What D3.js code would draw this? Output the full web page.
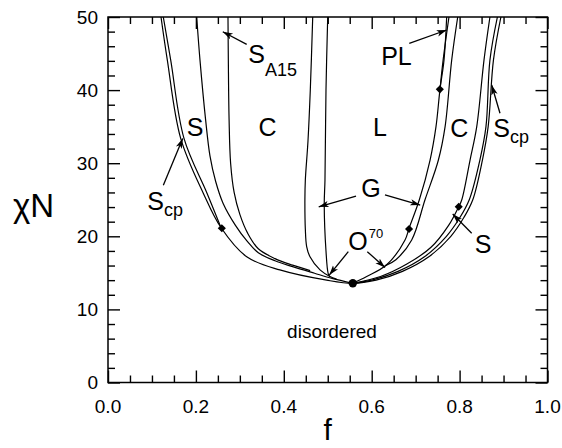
<!DOCTYPE html>
<html>
<head>
<meta charset="utf-8">
<script src="https://cdn.jsdelivr.net/npm/d3@7/dist/d3.min.js"></script>
<style>
  body { margin: 0; background: #fff; }
  text { font-family: "Liberation Sans", Arial, sans-serif; fill: #000; }
</style>
</head>
<body>
<script>
// phase boundaries, each point is [f, chiN]
const disorderBoundary = [[0.1206,50],[0.135,44.1],[0.1654,33.4],[0.2168,25.9],[0.257,21.2],[0.3156,17.2],[0.391,15.4],[0.4976,14.0],[0.557,13.57],[0.61,14.0],[0.67,15.2],[0.73,17.2],[0.78,20],[0.81,22.6],[0.83,25],[0.8518,30.4],[0.865,35],[0.877,44.1],[0.894,50]];
const scpSLeft = [[0.1258,50],[0.1427,44.1],[0.1729,33.4],[0.2253,25.9],[0.257,21.2]];
const sA15Left = [[0.2018,50],[0.2093,44.1],[0.222,36],[0.232,31],[0.245,27.5],[0.262,24.5],[0.29,21.5],[0.3156,19.4],[0.342,17.75],[0.38,16.65],[0.42,15.85],[0.47,14.95],[0.51,14.25],[0.557,13.57]];
const a15CLeft = [[0.273,50],[0.2738,44.1],[0.2755,36],[0.279,30],[0.287,26],[0.300,23],[0.318,20.4],[0.342,18.3],[0.38,16.95],[0.42,16.05],[0.46,15.3]];
const cGLeft = [[0.4658,50],[0.4603,40],[0.455,33],[0.449,27.7],[0.448,25],[0.449,21],[0.452,18.6],[0.4596,17.2],[0.4824,15.4],[0.505,14.5],[0.52,14.15]];
const gLLeft = [[0.4999,50],[0.496,40],[0.4937,27.7],[0.492,24.3],[0.496,18],[0.501,14.9],[0.505,14.45]];
const lGRight = [[0.7706,50],[0.7645,44.1],[0.7554,40.1],[0.7463,35],[0.7327,30.4],[0.7084,25],[0.685,21.1],[0.6758,19.5],[0.634,16.1],[0.5886,14.5],[0.557,13.57]];
const plRight = [[0.7554,40.1],[0.7625,44.1],[0.7758,50]];
const gCRight = [[0.7957,50],[0.782,44.1],[0.767,35],[0.7516,30.4],[0.7213,25],[0.691,19.5],[0.655,16.8],[0.630,15.95]];
const cSRight = [[0.869,50],[0.8555,44.1],[0.839,35],[0.8237,30.4],[0.805,25],[0.798,24.05],[0.775,21.5],[0.735,18.5],[0.68,16.2],[0.62,14.5],[0.557,13.57]];
const sScpRight = [[0.886,50],[0.869,44.1],[0.86,35],[0.846,30.4],[0.822,25],[0.80,22.5],[0.77,20],[0.72,17.2],[0.66,15.2],[0.60,14.0],[0.557,13.57]];

// special points
const triplePoints = [[0.259,21.1],[0.685,21.0],[0.755,40.1],[0.798,24.05]];
const criticalPoint = [0.557,13.57];

// axis ticks
const fMajor = [0, 0.2, 0.4, 0.6, 0.8, 1.0];
const fMinor = [0.05,0.1,0.15,0.25,0.3,0.35,0.45,0.5,0.55,0.65,0.7,0.75,0.85,0.9,0.95];
const nMajor = [0, 10, 20, 30, 40, 50];
const nMinor = [2,4,6,8,12,14,16,18,22,24,26,28,32,34,36,38,42,44,46,48];

// phase labels [text, sub, sup, f, chiN, anchor]
const phaseLabels = [
  ["S", "", "", 0.198, 33.72, "middle"],
  ["C", "", "", 0.363, 33.72, "middle"],
  ["L", "", "", 0.619, 33.72, "middle"],
  ["C", "", "", 0.799, 33.63, "middle"],
  ["S", "cp", "", 0.8767, 33.63, "start"],
  ["S", "A15", "", 0.3192, 43.7, "start"],
  ["PL", "", "", 0.6564, 43.43, "middle"],
  ["G", "", "", 0.5984, 25.42, "middle"],
  ["O", "", "70", 0.5468, 18.13, "start"],
  ["S", "cp", "", 0.0894, 23.6, "start"],
  ["S", "", "", 0.8532, 17.67, "middle"]
];

// arrows [fromF, fromN, toF, toN]
const arrows = [
  [0.3156,46.26,0.2611,47.98],
  [0.6855,46.40,0.7706,48.22],
  [0.5643,25.51,0.4794,24.04],
  [0.6302,25.65,0.7104,24.28],
  [0.5468,17.9,0.5034,14.70],
  [0.5900,17.9,0.6303,15.73],
  [0.1259,27.00,0.1700,33.39],
  [0.8919,36.83,0.8730,40.70],
  [0.8275,20.41,0.7843,23.05]
];

// dimensions and margins
const margin = {top: 17, right: 14.5, bottom: 65.5, left: 108};
const width = 562 - margin.left - margin.right,
      height = 448 - margin.top - margin.bottom;

const x = d3.scaleLinear().domain([0, 1]).range([0, width]);
const y = d3.scaleLinear().domain([0, 50]).range([height, 0]);

const root = d3.select("body").append("svg")
  .attr("width", 562)
  .attr("height", 448);

const defs = root.append("defs");
defs.append("clipPath").attr("id", "plotclip")
  .append("rect").attr("width", width).attr("height", height);
defs.append("marker")
  .attr("id", "head")
  .attr("markerUnits", "userSpaceOnUse")
  .attr("viewBox", "0 -5 10 10")
  .attr("refX", 10).attr("refY", 0)
  .attr("markerWidth", 10).attr("markerHeight", 10)
  .attr("orient", "auto")
  .append("path")
  .attr("d", "M0,-3.2L10,0L0,3.2L2.5,0Z")
  .attr("fill", "#000");

const svg = root.append("g")
  .attr("transform", `translate(${margin.left},${margin.top})`);

// ticks, all pointing inward
function ticks(axis, vals, size) {
  return axis.tickValues(vals).tickSize(size).tickFormat("");
}
const tickLayer = svg.append("g").attr("class", "ticks");
tickLayer.append("g").attr("transform", `translate(0,${height})`).call(ticks(d3.axisBottom(x), fMinor, -7));
tickLayer.append("g").attr("transform", `translate(0,${height})`).call(ticks(d3.axisBottom(x), fMajor, -12));
tickLayer.append("g").call(ticks(d3.axisTop(x), fMinor, -7));
tickLayer.append("g").call(ticks(d3.axisTop(x), fMajor, -12));
tickLayer.append("g").call(ticks(d3.axisLeft(y), nMinor, -7));
tickLayer.append("g").call(ticks(d3.axisLeft(y), nMajor, -12));
tickLayer.append("g").attr("transform", `translate(${width},0)`).call(ticks(d3.axisRight(y), nMinor, -7));
tickLayer.append("g").attr("transform", `translate(${width},0)`).call(ticks(d3.axisRight(y), nMajor, -12));
tickLayer.selectAll(".domain").remove();
tickLayer.selectAll(".tick line").attr("stroke", "#000").attr("stroke-width", 1.4);

// tick labels
svg.selectAll(".xlab").data(fMajor).enter().append("text")
  .attr("x", d => x(d)).attr("y", height + 30.5)
  .attr("text-anchor", "middle").style("font-size", "19px")
  .text(d => d3.format(".1f")(d));
svg.selectAll(".ylab").data(nMajor).enter().append("text")
  .attr("x", -10).attr("y", d => y(d) + 6.8)
  .attr("text-anchor", "end").style("font-size", "19px")
  .text(d => d);

// frame
svg.append("rect")
  .attr("width", width).attr("height", height)
  .attr("fill", "none").attr("stroke", "#000").attr("stroke-width", 1.5);

// boundaries
const line = d3.line()
  .x(d => x(d[0])).y(d => y(d[1]))
  .curve(d3.curveCatmullRom.alpha(0.5));
const curves = [disorderBoundary, scpSLeft, sA15Left, a15CLeft, cGLeft, gLLeft,
                lGRight, plRight, gCRight, cSRight, sScpRight];
svg.append("g").attr("clip-path", "url(#plotclip)")
  .selectAll("path").data(curves).enter().append("path")
  .attr("d", line)
  .attr("fill", "none").attr("stroke", "#000").attr("stroke-width", 1.2);

// triple points and critical point
svg.selectAll(".tp").data(triplePoints).enter().append("path")
  .attr("transform", d => `translate(${x(d[0])},${y(d[1])})`)
  .attr("d", d3.symbol(d3.symbolDiamond2, 42));
svg.append("circle")
  .attr("cx", x(criticalPoint[0])).attr("cy", y(criticalPoint[1]))
  .attr("r", 4.2);

// arrows
svg.selectAll(".arrow").data(arrows).enter().append("line")
  .attr("x1", d => x(d[0])).attr("y1", d => y(d[1]))
  .attr("x2", d => x(d[2])).attr("y2", d => y(d[3]))
  .attr("stroke", "#000").attr("stroke-width", 1.3)
  .attr("marker-end", "url(#head)");

// phase labels
const lab = svg.selectAll(".phase").data(phaseLabels).enter().append("text")
  .attr("x", d => x(d[3])).attr("y", d => y(d[4]))
  .attr("text-anchor", d => d[5])
  .style("font-size", "25px");
lab.append("tspan").text(d => d[0]);
lab.filter(d => d[1]).append("tspan")
  .attr("dy", d => d[1] === "A15" ? 13 : 6.5)
  .style("font-size", "18px").text(d => d[1]);
lab.filter(d => d[2]).append("tspan")
  .attr("dy", -12.4).attr("dx", 1)
  .style("font-size", "13px").text(d => d[2]);

svg.append("text")
  .attr("x", x(0.5097)).attr("y", y(6.09))
  .attr("text-anchor", "middle").style("font-size", "19px")
  .text("disordered");

// axis titles
svg.append("text")
  .attr("x", x(0.5)).attr("y", height + 57)
  .attr("text-anchor", "middle").style("font-size", "30px")
  .text("f");
root.append("text")
  .attr("x", 13).attr("y", 217)
  .style("font-size", "33px")
  .text("χN");
</script>
</body>
</html>
